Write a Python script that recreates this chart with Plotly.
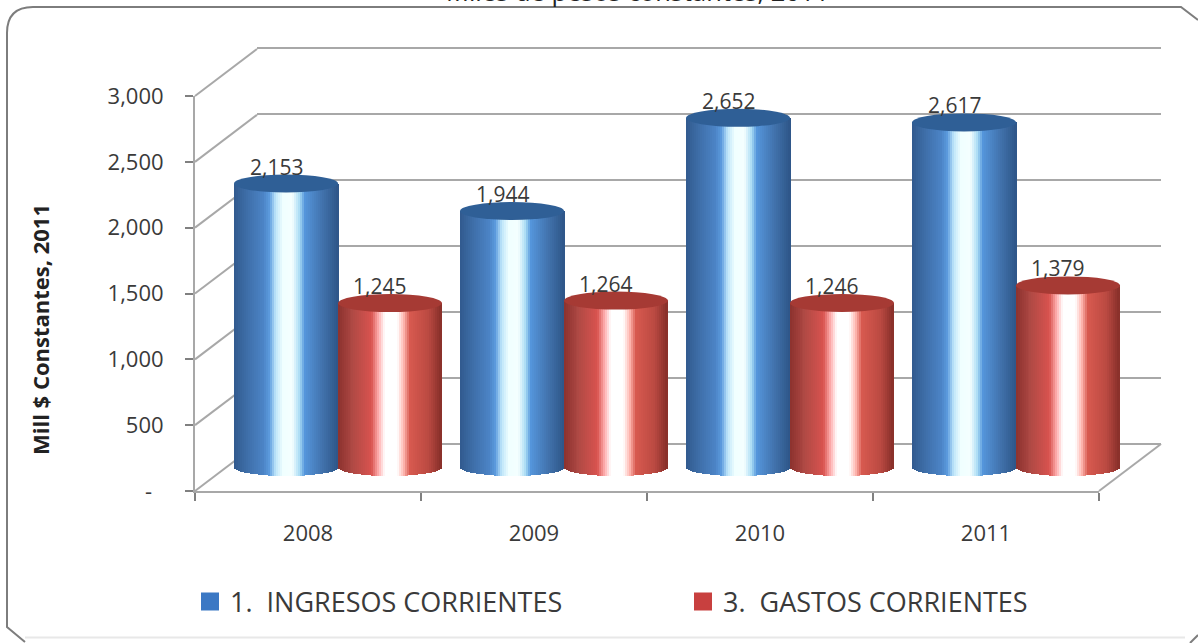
import numpy as np
import plotly.graph_objects as go

W, H = 1198, 643
YEARS = ["2008", "2009", "2010", "2011"]
INGRESOS = [2153, 1944, 2652, 2617]
GASTOS = [1245, 1264, 1246, 1379]
Y_TICKS = [0, 500, 1000, 1500, 2000, 2500, 3000]
Y_LABELS = ["-\u00a0\u00a0", "500", "1,000", "1,500", "2,000", "2,500", "3,000"]
NAME_A = "1.\u00a0\u00a0INGRESOS CORRIENTES"
NAME_B = "3.\u00a0\u00a0GASTOS CORRIENTES"
Y_TITLE = "Mill $ Constantes, 2011"
TITLE = "Miles de pesos constantes, 2011"

BLUE_STOPS = [(0, (50, 90, 142)), (.12, (62, 110, 168)), (.28, (76, 132, 198)), (.34, (92, 155, 222)),
              (.40, (190, 230, 250)), (.47, (240, 255, 255)), (.56, (245, 255, 255)), (.63, (170, 220, 245)),
              (.68, (85, 150, 220)), (.85, (66, 115, 173)), (1, (46, 86, 136))]
RED_STOPS = [(0, (140, 50, 46)), (.15, (176, 74, 69)), (.33, (217, 83, 79)), (.40, (255, 175, 175)),
             (.46, (255, 255, 255)), (.58, (255, 255, 255)), (.64, (255, 185, 178)), (.7, (216, 90, 80)),
             (.88, (187, 74, 66)), (1, (135, 47, 42))]
CAP_BLUE, CAP_RED = "#2f5f96", "#a63a34"
SWATCH_BLUE, SWATCH_RED = "#3b78c4", "#c8403f"
TEXT = "#3a3a3a"
FONT = "Open Sans"

px = lambda x: x / W
py = lambda y: 1 - y / H
PX_PER_UNIT = 395 / 3000
CAP_H = 9 / PX_PER_UNIT
CYL_W = 0.46
STRIPS = 52


def ramp(stops, t):
    ts = [s[0] for s in stops]
    return "rgb(%d,%d,%d)" % tuple(np.interp(t, ts, [s[1][c] for s in stops]) for c in range(3))


def cylinder(values, left, stops):
    xs, tops, bases, cols = [], [], [], []
    ts = (np.arange(STRIPS) + .5) / STRIPS
    for i, v in enumerate(values):
        for t in ts:
            b = -CAP_H * np.sqrt(max(0, 1 - (2 * t - 1) ** 2))
            xs.append(i + left + t * CYL_W)
            bases.append(b)
            tops.append(v - b)
            cols.append(ramp(stops, t))
    return go.Bar(x=xs, y=tops, base=bases, width=CYL_W / STRIPS * 1.5, xaxis="x3", yaxis="y3",
                  marker=dict(color=cols, line_width=0), showlegend=False, hoverinfo="skip")


fig = go.Figure()
# back wall carrier
fig.add_trace(go.Scatter(x=[0], y=[None], xaxis="x", yaxis="y", showlegend=False, hoverinfo="skip"))
# front axis carrier + legend entries
for name, col in ((NAME_A, SWATCH_BLUE), (NAME_B, SWATCH_RED)):
    fig.add_trace(go.Scatter(x=YEARS, y=[None] * 4, xaxis="x2", yaxis="y2", name=name, mode="markers",
                             marker=dict(symbol="square", size=16, color=col, line=dict(color=col, width=2))))
fig.add_trace(cylinder(INGRESOS, -CYL_W, BLUE_STOPS))
fig.add_trace(cylinder(GASTOS, 0, RED_STOPS))

shapes, annos = [], []
GRID = "#a8a8a8"
for t in Y_TICKS:
    yf = 491 - t * PX_PER_UNIT
    shapes.append(dict(type="line", xref="paper", yref="paper", x0=px(195), y0=py(yf), x1=px(257), y1=py(yf - 47),
                       line=dict(color=GRID, width=2), layer="below"))
shapes.append(dict(type="line", xref="paper", yref="paper", x0=px(1099), y0=py(491), x1=px(1161), y1=py(444),
                   line=dict(color=GRID, width=2), layer="below"))
for values, left, cap in ((INGRESOS, -CYL_W, CAP_BLUE), (GASTOS, 0, CAP_RED)):
    for i, v in enumerate(values):
        shapes.append(dict(type="circle", xref="x3", yref="y3", x0=i + left, x1=i + left + CYL_W,
                           y0=v - CAP_H, y1=v + CAP_H, fillcolor=cap, line_width=0, layer="above"))
        annos.append(dict(xref="x3", yref="y3", x=i + left + CYL_W / 2, y=v, text=f"{v:,}", showarrow=False,
                          xshift=-10, yshift=17, font=dict(family=FONT, size=21, color=TEXT)))

# chart-area frame
r = 26
path = (f"M {px(25)} {py(642)} L {px(7)} {py(627)} L {px(7)} {py(7 + r)} Q {px(7)} {py(7)} {px(7 + r)} {py(7)} "
        f"L {px(1197 - r + 10)} {py(7)} L {px(1198)} {py(20)}")
shapes.append(dict(type="path", xref="paper", yref="paper", path=path, line=dict(color="#7d7d7d", width=2), layer="below"))
shapes.append(dict(type="line", xref="paper", yref="paper", x0=px(25), y0=py(637.5), x1=px(1185), y1=py(637.5),
                   line=dict(color="#e8e8e8", width=2), layer="below"))
shapes.append(dict(type="line", xref="paper", yref="paper", x0=px(1190), y0=py(643), x1=px(1198), y1=py(635),
                   line=dict(color="#7d7d7d", width=2), layer="below"))

annos.append(dict(xref="paper", yref="paper", x=px(40), y=py(330), xanchor="center", yanchor="middle",
                  text=f"<b>{Y_TITLE}</b>", textangle=-90, showarrow=False,
                  font=dict(family=FONT, size=22, color="#222222")))
annos.append(dict(xref="paper", yref="paper", x=px(445), y=py(9), xanchor="left", yanchor="bottom", text=TITLE,
                  showarrow=False, borderpad=0, font=dict(family=FONT, size=25.5, color="#222222")))

fig.update_layout(
    width=W, height=H, margin=dict(l=0, r=0, t=0, b=0, autoexpand=False), autosize=False,
    paper_bgcolor="white", plot_bgcolor="rgba(0,0,0,0)", barmode="overlay", bargap=0,
    font=dict(family=FONT, color=TEXT),
    xaxis=dict(domain=[px(257), px(1161)], range=[0, 1], visible=False, anchor="y"),
    yaxis=dict(domain=[py(444 + 100 * PX_PER_UNIT), py(48 - 100 * PX_PER_UNIT)], range=[-100, 3100], tickvals=Y_TICKS,
               showticklabels=False, ticks="", showgrid=True, gridcolor=GRID, gridwidth=2, zeroline=False,
               showline=False, anchor="x"),
    xaxis2=dict(domain=[px(195), px(1099)], type="category", categoryorder="array", categoryarray=YEARS,
                range=[-.5, 3.5], tickson="boundaries", ticks="outside", ticklen=8, tickwidth=2, tickcolor="#808080",
                showline=True, linecolor=GRID, linewidth=2, showgrid=False, anchor="y2", ticklabelstandoff=22,
                tickfont=dict(family=FONT, size=22, color=TEXT)),
    yaxis2=dict(domain=[py(491), py(96)], range=[0, 3000], tickvals=Y_TICKS, ticktext=Y_LABELS, ticks="outside",
                ticklen=8, tickwidth=2, tickcolor="#808080", showline=True, linecolor=GRID, linewidth=2,
                showgrid=False, zeroline=False, anchor="x2", ticklabelstandoff=17,
                tickfont=dict(family=FONT, size=22, color=TEXT)),
    xaxis3=dict(domain=[px(225), px(1129)], range=[-.5, 3.5], visible=False, anchor="y3"),
    yaxis3=dict(domain=[py(467 + 100 * PX_PER_UNIT), py(467 - 3000 * PX_PER_UNIT)], range=[-100, 3000], visible=False,
                anchor="x3"),
    legend=dict(orientation="h", x=px(190), y=py(602), xanchor="left", yanchor="middle", entrywidth=448,
                entrywidthmode="pixels", bgcolor="rgba(0,0,0,0)", font=dict(family=FONT, size=27, color=TEXT),
                tracegroupgap=0),
    shapes=shapes, annotations=annos,
)
fig.write_html("out.html", config=dict(displayModeBar=False),
               post_script="document.body.style.margin='0';document.documentElement.style.overflow='hidden';")
